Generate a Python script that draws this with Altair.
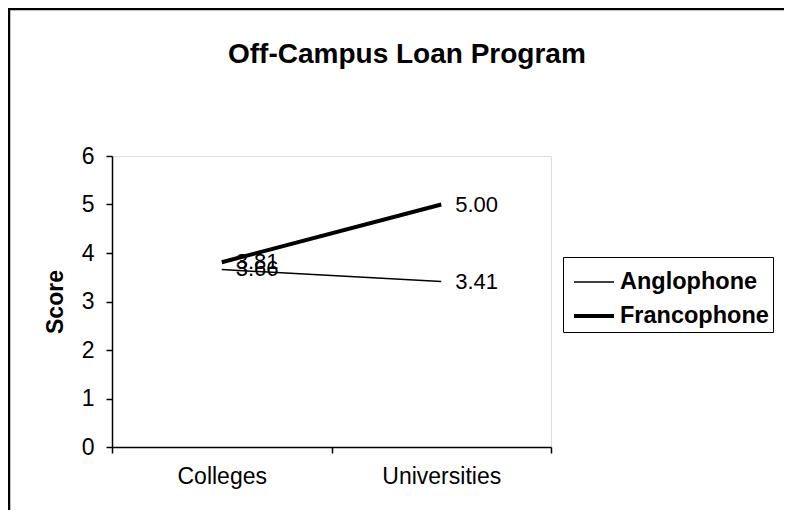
import altair as alt
import pandas as pd

categories = ["Colleges", "Universities"]
series_names = ["Anglophone", "Francophone"]
anglophone = [3.66, 3.41]
francophone = [3.81, 5.00]

rows = []
for name, vals in zip(series_names, [anglophone, francophone]):
    for c, v in zip(categories, vals):
        rows.append({"group": c, "series": name, "score": v})
df = pd.DataFrame(rows)

FONT = "Liberation Sans"

x_enc = alt.X(
    "group:N",
    sort=categories,
    scale=alt.Scale(type="band", paddingInner=0, paddingOuter=0),
    axis=alt.Axis(
        title=None, labelAngle=0, labelFont=FONT, labelFontSize=23,
        labelColor="black", tickBand="extent", tickColor="black",
        domainColor="black", domainWidth=1.5, tickWidth=1.5, tickSize=6,
        labelPadding=12, grid=False,
    ),
)
y_enc = alt.Y(
    "score:Q",
    scale=alt.Scale(domain=[0, 6], nice=False, zero=True),
    axis=alt.Axis(
        title="Score", values=[0, 1, 2, 3, 4, 5, 6], format="d",
        labelFont=FONT, labelFontSize=23, labelColor="black",
        titleFont=FONT, titleFontSize=23, titleFontWeight="bold",
        titleColor="black", titlePadding=14, tickColor="black",
        domainColor="black", domainWidth=1.5, tickWidth=1.5, tickSize=6,
        labelPadding=12, grid=False,
    ),
)

lines = alt.Chart(df).mark_line(color="black").encode(
    x=x_enc,
    y=y_enc,
    strokeWidth=alt.StrokeWidth(
        "series:N",
        scale=alt.Scale(domain=series_names, range=[1.5, 4]),
        legend=alt.Legend(
            title=None, orient="none", legendX=451, legendY=101,
            symbolType="stroke", symbolSize=1600, symbolStrokeColor="black",
            labelFont=FONT, labelFontSize=23.5, labelFontWeight="bold",
            labelColor="black", strokeColor="black", padding=4,
            rowPadding=0, labelOffset=4, symbolOffset=5,
        ),
    ),
    detail="series:N",
)

labels = alt.Chart(df).mark_text(
    align="left", baseline="middle", dx=14, font=FONT, fontSize=22, color="black"
).encode(
    x=alt.X("group:N", sort=categories),
    y="score:Q",
    text=alt.Text("score:Q", format=".2f"),
)

border = alt.Chart(alt.Data(values=[{}])).mark_rect(
    filled=False, stroke="black", strokeWidth=2.5, clip=False
).encode(
    x=alt.value(-103), x2=alt.value(1000),
    y=alt.value(-147), y2=alt.value(1000),
)

chart = alt.layer(lines, labels, border).properties(
    width=439,
    height=291,
    title=alt.TitleParams(
        "Off-Campus Loan Program", font=FONT, fontSize=28, fontWeight="bold",
        color="black", anchor="start", frame="group", dx=116, offset=-83,
        baseline="alphabetic",
    ),
    autosize=alt.AutoSizeParams(type="none"),
    padding={"left": 104, "top": 148, "right": 233, "bottom": 63},
).configure_view(stroke="black", strokeWidth=1.5).configure(background="white")

chart.save("out.html", embed_options={"renderer": "svg", "actions": False})
